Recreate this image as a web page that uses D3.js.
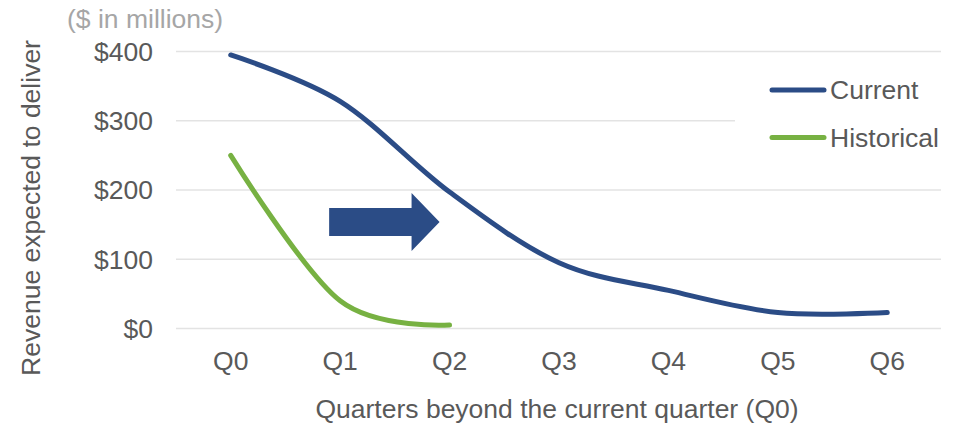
<!DOCTYPE html>
<html><head><meta charset="utf-8">
<script src="https://cdn.jsdelivr.net/npm/d3@7"></script>
<style>body{margin:0;background:#fff}svg{display:block}text{font-family:"Liberation Sans",Arial,sans-serif}</style>
</head><body><svg id="c" width="961" height="425"></svg>
<script>
const quarters = ["Q0","Q1","Q2","Q3","Q4","Q5","Q6"];
const currentValues = [395, 328, 197, 95, 55, 23, 23];
const historicalValues = [250, 40, 5];
const yTicks = [0, 100, 200, 300, 400];
const seriesNames = ["Current", "Historical"];
const seriesColors = ["#2B4C86", "#77B142"];
const FS = "26.5px";

const svg = d3.select("#c");
const x = d3.scalePoint().domain(quarters).range([176, 942]).padding(0.5);
const y = d3.scaleLinear().domain([0, 400]).range([328.5, 51.5]);

svg.append("g").selectAll("line").data(yTicks).join("line")
  .attr("x1", 176).attr("x2", 941).attr("y1", d => y(d)).attr("y2", d => y(d))
  .attr("stroke", "#e3e3e3").attr("stroke-width", 1.5);

svg.append("g").selectAll("text").data(yTicks).join("text")
  .attr("x", 153).attr("y", d => y(d)).attr("dy", "0.35em").attr("text-anchor", "end")
  .attr("fill", "#595959").style("font-size", FS).text(d => "$" + d);

svg.append("g").selectAll("text").data(quarters).join("text")
  .attr("x", d => x(d)).attr("y", 361).attr("dy", "0.35em").attr("text-anchor", "middle")
  .attr("fill", "#595959").style("font-size", FS).text(d => d);

svg.append("text").attr("x", 557).attr("y", 409).attr("dy", "0.35em").attr("text-anchor", "middle")
  .attr("fill", "#595959").style("font-size", FS).text("Quarters beyond the current quarter (Q0)");

svg.append("text").attr("transform", "translate(31,208) rotate(-90)").attr("dy", "0.35em")
  .attr("text-anchor", "middle").attr("fill", "#595959").style("font-size", FS)
  .text("Revenue expected to deliver");

svg.append("text").attr("x", 67).attr("y", 19).attr("dy", "0.35em")
  .attr("fill", "#a6a6a6").style("font-size", FS).text("($ in millions)");

svg.append("rect").attr("x", 735).attr("y", 62).attr("width", 210).attr("height", 105).attr("fill", "#fff");

const line = d3.line().x((d, i) => x(quarters[i])).y(d => y(d)).curve(d3.curveCardinal.tension(0));
const series = [currentValues, historicalValues];
svg.append("g").selectAll("path").data(series).join("path")
  .attr("d", d => line(d)).attr("fill", "none")
  .attr("stroke", (d, i) => seriesColors[i]).attr("stroke-width", 5).attr("stroke-linecap", "round");

const ax0 = x("Q1") - 11, ax1 = x("Q2") - 10, cy = 222;
svg.append("path").attr("fill", "#2B4C86")
  .attr("d", `M${ax0},${cy-14}H${ax1-28}V${cy-29}L${ax1},${cy}L${ax1-28},${cy+29}V${cy+14}H${ax0}Z`);

const lg = svg.append("g").selectAll("g").data(seriesNames).join("g")
  .attr("transform", (d, i) => `translate(770,${90 + i * 47.5})`);
lg.append("line").attr("x1", 2).attr("x2", 54).attr("stroke", (d, i) => seriesColors[i])
  .attr("stroke-width", 5).attr("stroke-linecap", "round");
lg.append("text").attr("x", 60).attr("dy", "0.35em").attr("fill", "#595959")
  .style("font-size", FS).text(d => d);
</script></body></html>
